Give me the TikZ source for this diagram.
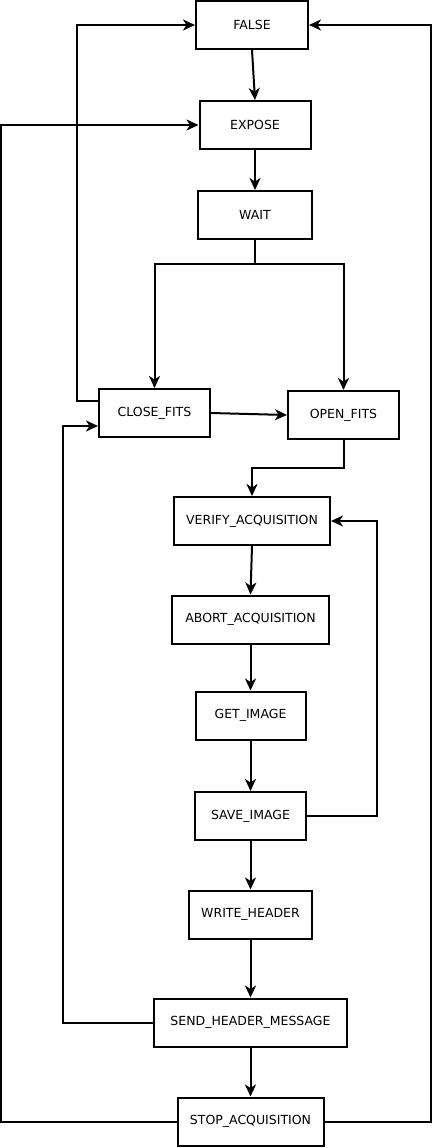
\documentclass[tikz,border=0pt]{standalone}
\usepackage{fontspec}
\setmainfont{DejaVu Sans}
\usetikzlibrary{arrows.meta,calc}
\begin{document}
\begin{tikzpicture}[x=1pt,y=1pt,
  box/.style={draw, line width=2pt, minimum width=#1, minimum height=48pt, inner sep=0pt, font=\fontsize{12.5}{14}\selectfont},
  conn/.style={line width=2pt, -{Stealth[length=12pt,width=11pt,inset=3.5pt]}}]
\useasboundingbox (0,0) rectangle (432,-1148);
\node[box=112] (false) at (252,-25) {FALSE};
\node[box=111] (expose) at (255,-125) {EXPOSE};
\node[box=114] (wait) at (255,-215) {WAIT};
\node[box=111] (cf) at (154.5,-413) {CLOSE\_FITS};
\node[box=111] (of) at (343.5,-415) {OPEN\_FITS};
\node[box=156] (verify) at (252,-521) {VERIFY\_ACQUISITION};
\node[box=157] (abort) at (250.5,-619.5) {ABORT\_ACQUISITION};
\node[box=110] (get) at (250.5,-715.5) {GET\_IMAGE};
\node[box=111] (save) at (250.5,-816) {SAVE\_IMAGE};
\node[box=123] (write) at (250.5,-914.5) {WRITE\_HEADER};
\node[box=193] (send) at (250.5,-1022.5) {SEND\_HEADER\_MESSAGE};
\node[box=146] (stop) at (250.5,-1121.5) {STOP\_ACQUISITION};

\draw[conn] (false.south) -- (expose.north);
\draw[conn] (expose.south) -- (wait.north);
\draw[conn] (wait.south) -- ++(0,-24) -| (cf.north);
\draw[conn] (wait.south) -- ++(0,-24) -| (of.north);
\draw[conn] ($(cf.west)+(0,12)$) -- ++(-21,0) |- (false.west);
\draw[conn] (cf.east) -- (of.west);
\draw[conn] (of.south) -- ++(0,-28) -| (verify.north);
\draw[conn] (verify.south) -- (abort.north);
\draw[conn] (abort.south) -- (get.north);
\draw[conn] (get.south) -- (save.north);
\draw[conn] (save.south) -- (write.north);
\draw[conn] (write.south) -- (send.north);
\draw[conn] (send.south) -- (stop.north);
\draw[conn] (save.east) -- ++(70,0) |- (verify.east);
\draw[conn] (send.west) -- ++(-90,0) |- ($(cf.west)+(0,-13)$);
\draw[conn] (stop.west) -- ++(-176,0) |- (expose.west);
\draw[conn] (stop.east) -- ++(106,0) |- (false.east);
\end{tikzpicture}
\end{document}
